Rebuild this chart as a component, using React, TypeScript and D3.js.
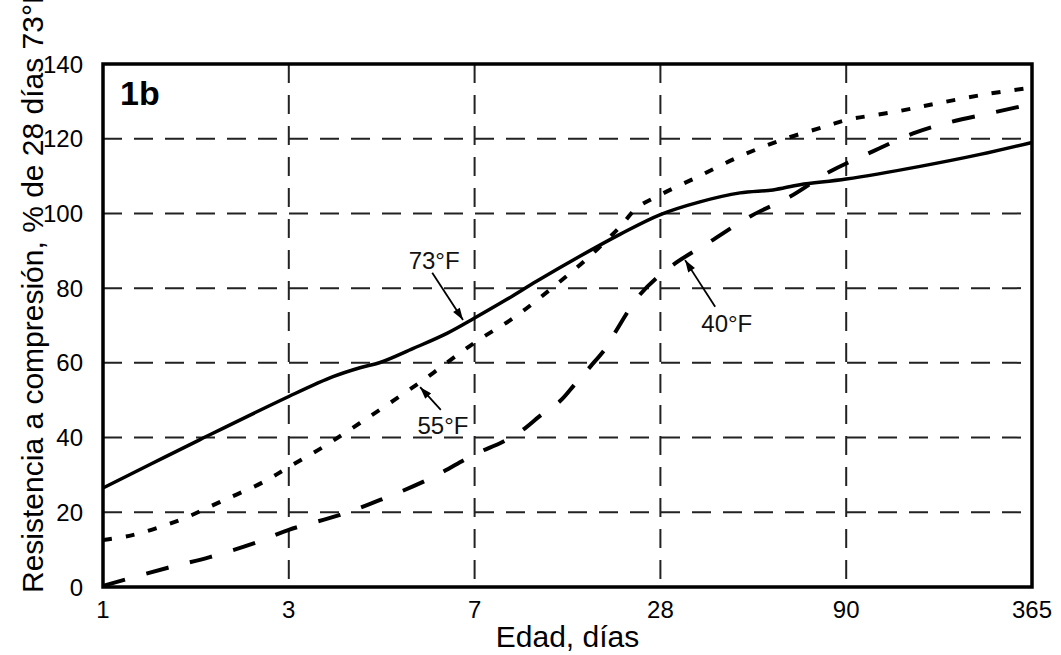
import React, { useEffect, useRef } from 'react';
import * as d3 from 'd3';

// Edad (días) -- the axis is spaced evenly per tick, log inside each segment
const ageTicks = [1, 3, 7, 28, 90, 365];
const strengthTicks = [0, 20, 40, 60, 80, 100, 120, 140];

// 73°F (solid)
const days73 = [1, 1.32, 1.77, 3, 3.67, 4.15, 4.55, 5.28, 6.17, 7, 8.91, 11.15, 15.4, 20.7, 28, 35.9, 46.2, 56.8, 67.3, 90, 157, 247, 365];
const strength73 = [26.5, 32.8, 39.4, 51, 56.3, 58.7, 60.1, 63.8, 67.9, 72, 77, 81.9, 88.6, 94.4, 99.7, 103.1, 105.5, 106.3, 107.7, 109.2, 112.6, 115.8, 119];

// 55°F (dotted)
const days55 = [1, 1.19, 1.58, 2.0, 2.58, 3, 3.51, 4.15, 5.46, 7, 9.46, 12.5, 16.3, 20.7, 23.5, 28, 35.4, 46.2, 60.5, 80.3, 90, 132, 185, 262, 365];
const strength55 = [12.6, 13.9, 18, 22.8, 28.1, 32.1, 37.5, 43.9, 54.8, 65.4, 72.3, 80.1, 88.1, 96.4, 101.5, 105, 109.8, 115.3, 119.8, 123.5, 125, 127.3, 129.7, 132, 133.7];

// 40°F (dashed)
const days40 = [1, 1.46, 1.88, 2.49, 3, 3.79, 4.55, 5.71, 7, 8.65, 10.0, 11.4, 13.3, 14.8, 16.6, 18.8, 20.2, 24.0, 29.8, 38.2, 49.2, 63.3, 81.3, 110, 149, 194, 272, 365];
const strength40 = [0.3, 5.1, 8, 12, 15.3, 19.3, 23.3, 29, 35.5, 38.9, 42, 45.8, 49.9, 54.3, 59, 64.4, 68.8, 78.2, 85.7, 92.4, 99.2, 104.5, 111.2, 116.6, 121.4, 124.3, 127, 129.3];

const seriesLabels = ['73°F', '55°F', '40°F'];
// label centre, arrow tail, arrow head (days, %)
const labelAt = [[5.82, 87.5], [6.06, 43.4], [42.5, 70.7]];
const arrowFrom = [[5.77, 84.1], [6.0, 47.4], [39.5, 75]];
const arrowTo = [[6.64, 71.5], [5.46, 53.5], [32.7, 87.5]];

const W = 1061;
const H = 655;
const font = '"Liberation Sans", Arial, sans-serif';

function App() {
  const svgRef = useRef<SVGSVGElement>(null);

  useEffect(() => {
    const left = 103, right = 1032, top = 64, bottom = 587;
    const svg = d3.select(svgRef.current);
    svg.selectAll('*').remove();

    const step = (right - left) / (ageTicks.length - 1);
    const x = d3.scaleLog()
      .domain(ageTicks)
      .range(ageTicks.map((_, i) => left + i * step));
    const y = d3.scaleLinear().domain([0, 140]).range([bottom, top]);

    svg.append('defs').append('marker')
      .attr('id', 'arrow')
      .attr('viewBox', '0 0 12 8')
      .attr('refX', 12)
      .attr('refY', 4)
      .attr('markerWidth', 13)
      .attr('markerHeight', 8)
      .attr('markerUnits', 'userSpaceOnUse')
      .attr('orient', 'auto')
      .append('path')
      .attr('d', 'M0,0 L12,4 L0,8 Z')
      .attr('fill', '#000');

    // grid
    svg.append('g')
      .selectAll('line')
      .data(strengthTicks.slice(1, -1))
      .enter()
      .append('line')
      .attr('x1', left)
      .attr('x2', right)
      .attr('y1', d => y(d))
      .attr('y2', d => y(d))
      .attr('stroke', '#222')
      .attr('stroke-width', 2)
      .attr('stroke-dasharray', '19 12');

    svg.append('g')
      .selectAll('line')
      .data(ageTicks.slice(1, -1))
      .enter()
      .append('line')
      .attr('x1', d => x(d))
      .attr('x2', d => x(d))
      .attr('y1', top)
      .attr('y2', bottom)
      .attr('stroke', '#222')
      .attr('stroke-width', 2)
      .attr('stroke-dasharray', '19 12');

    // curves
    const line = d3.line<[number, number]>()
      .x(d => x(d[0]))
      .y(d => y(d[1]))
      .curve(d3.curveCatmullRom.alpha(0.5));

    const curves = [
      { days: days73, vals: strength73, dash: null },
      { days: days55, vals: strength55, dash: '9 14' },
      { days: days40, vals: strength40, dash: '23 22' },
    ];
    curves.forEach(c => {
      svg.append('path')
        .datum(c.days.map((d, i) => [d, c.vals[i]] as [number, number]))
        .attr('d', line)
        .attr('fill', 'none')
        .attr('stroke', '#000')
        .attr('stroke-width', c.dash ? 4 : 3.5)
        .attr('stroke-dasharray', c.dash);
    });

    // frame
    svg.append('rect')
      .attr('x', left)
      .attr('y', top)
      .attr('width', right - left)
      .attr('height', bottom - top)
      .attr('fill', 'none')
      .attr('stroke', '#000')
      .attr('stroke-width', 3.5);

    // tick labels
    svg.append('g')
      .selectAll('text')
      .data(strengthTicks)
      .enter()
      .append('text')
      .attr('x', left - 20)
      .attr('y', d => y(d))
      .attr('dy', '0.36em')
      .attr('text-anchor', 'end')
      .style('font-family', font)
      .style('font-size', '24px')
      .text(d => d);

    svg.append('g')
      .selectAll('text')
      .data(ageTicks)
      .enter()
      .append('text')
      .attr('x', d => x(d))
      .attr('y', bottom + 31)
      .attr('text-anchor', 'middle')
      .style('font-family', font)
      .style('font-size', '24px')
      .text(d => d);

    // axis titles
    svg.append('text')
      .attr('x', (left + right) / 2)
      .attr('y', 647)
      .attr('text-anchor', 'middle')
      .style('font-family', font)
      .style('font-size', '30px')
      .text('Edad, días');

    // the reference runs this title off the top edge
    svg.append('text')
      .attr('transform', `translate(43,${bottom + 6}) rotate(-90)`)
      .attr('text-anchor', 'start')
      .style('font-family', font)
      .style('font-size', '30px')
      .text('Resistencia a compresión, % de 28 días 73°F');

    // panel tag
    svg.append('text')
      .attr('x', 120)
      .attr('y', 105)
      .style('font-family', font)
      .style('font-size', '34px')
      .style('font-weight', 'bold')
      .text('1b');

    // annotations
    seriesLabels.forEach((lab, i) => {
      svg.append('line')
        .attr('x1', x(arrowFrom[i][0]))
        .attr('y1', y(arrowFrom[i][1]))
        .attr('x2', x(arrowTo[i][0]))
        .attr('y2', y(arrowTo[i][1]))
        .attr('stroke', '#000')
        .attr('stroke-width', 1.8)
        .attr('marker-end', 'url(#arrow)');
      svg.append('text')
        .attr('x', x(labelAt[i][0]))
        .attr('y', y(labelAt[i][1]))
        .attr('dy', '0.36em')
        .attr('text-anchor', 'middle')
        .attr('fill', '#111')
        .style('font-family', font)
        .style('font-size', '24px')
        .text(lab);
    });
  }, []);

  return (
    <svg
      ref={svgRef}
      width={W}
      height={H}
      style={{ position: 'absolute', left: 0, top: 0, background: '#fff' }}
    />
  );
}

export default App;
